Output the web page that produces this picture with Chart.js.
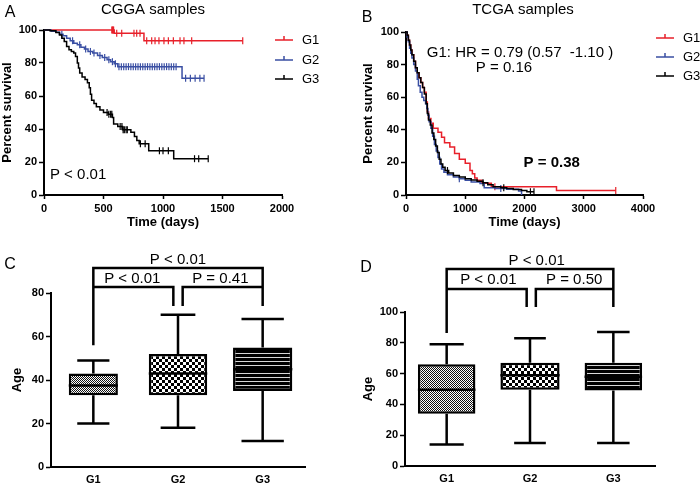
<!DOCTYPE html>
<html>
<head>
<meta charset="utf-8">
<script src="https://cdn.jsdelivr.net/npm/chart.js@4.4.0/dist/chart.umd.min.js"></script>
<style>
body { margin: 0; background: #fff; }
#wrap { position: relative; width: 700px; height: 485px; overflow: hidden; }
canvas { position: absolute; }
</style>
</head>
<body>
<div id="wrap">
  <canvas id="kmA" width="350" height="230" style="left:0;top:0"></canvas>
  <canvas id="kmB" width="350" height="230" style="left:350px;top:0"></canvas>
  <canvas id="boxC" width="350" height="255" style="left:0;top:230px"></canvas>
  <canvas id="boxD" width="350" height="255" style="left:350px;top:230px"></canvas>
</div>
<script>
// ---- data ----
const groupNames = ["G1", "G2", "G3"];

// CGGA survival, [days, percent]
const cggaG1Steps = [[0, 100], [590, 98], [840, 93.5], [1670, 93.5]];
const cggaG2Steps = [[0, 100], [60, 99.3], [100, 98.6], [130, 97.5], [160, 96.5], [190, 95], [220, 93.5], [250, 92],
    [280, 91], [310, 89.5], [340, 88.5], [370, 87], [410, 86], [450, 84.5], [490, 83.3], [530, 82], [560, 80.8],
    [590, 79.5], [620, 77.8], [1160, 70.7], [1345, 70.7]];
const cggaG3Steps = [[0, 100], [50, 99.5], [100, 98.5], [130, 97], [150, 95], [170, 93], [190, 90], [210, 88],
    [230, 87], [250, 86], [265, 84], [280, 80], [290, 77], [300, 74], [320, 71.5], [345, 70], [365, 68], [380, 65],
    [390, 61], [400, 57.5], [420, 55.5], [440, 53.5], [470, 51.5], [500, 50], [540, 49], [575, 47], [585, 43],
    [620, 41.5], [660, 39.5], [730, 38], [760, 35.5], [780, 33], [800, 31], [880, 26.8], [1090, 22], [1380, 22]];
const cggaG1Censor = [570, 575, 580, 585, 611, 653, 756, 779, 807, 863, 905, 933, 966, 1008, 1045, 1087, 1143, 1176, 1241, 1670];
const cggaG2Censor = [150, 240, 300, 350, 390, 420, 470, 510, 545, 575, 600, 630, 650, 670, 690, 710, 730, 750, 770,
    790, 810, 830, 850, 870, 890, 910, 930, 950, 970, 990, 1010, 1030, 1050, 1070, 1090, 1110, 1190, 1230, 1270, 1310, 1345];
const cggaG3Censor = [530, 545, 560, 570, 640, 655, 665, 675, 690, 700, 810, 850, 970, 1000, 1045, 1265, 1300, 1380];

// TCGA survival, [days, percent]
const tcgaG1Steps = [[0, 100], [20, 98], [40, 95], [60, 92], [80, 89], [100, 86], [130, 82], [160, 78], [190, 75],
    [220, 72], [250, 69], [280, 66], [310, 63], [340, 57], [360, 51], [380, 47], [420, 44], [460, 41], [540, 38.5],
    [600, 35.5], [650, 32], [740, 29.5], [820, 25.5], [900, 22], [1000, 19.5], [1080, 15], [1120, 13], [1160, 10.5],
    [1200, 9], [1280, 7.2], [1440, 5.1], [2540, 2.7], [3540, 2.7]];
const tcgaG2Steps = [[0, 100], [20, 97], [40, 94], [60, 90], [80, 87], [100, 84], [130, 80], [160, 76], [190, 71],
    [210, 67], [240, 63], [270, 60], [300, 58], [330, 56], [350, 53], [370, 49], [390, 45], [420, 41], [450, 36],
    [480, 31], [510, 27], [540, 23], [570, 19], [600, 16], [640, 14], [700, 12.5], [800, 11], [900, 10], [1000, 9],
    [1100, 8], [1250, 7], [1320, 4.5], [1500, 4], [1700, 3.5], [1900, 2.5], [1950, 0]];
const tcgaG3Steps = [[0, 100], [20, 98], [40, 95], [60, 92], [80, 89], [100, 86], [130, 82], [160, 78], [190, 75],
    [220, 72], [250, 69], [280, 66], [310, 62], [340, 56], [360, 50], [380, 46], [410, 43], [440, 38], [470, 34],
    [500, 30], [530, 26], [560, 22], [590, 19], [620, 17], [660, 15], [720, 13.5], [800, 12], [900, 11], [1000, 10],
    [1100, 9.2], [1200, 8.5], [1300, 7.5], [1380, 6.3], [1470, 5], [1600, 4.5], [1700, 4], [1810, 3.4], [1950, 2.7],
    [2040, 2], [2160, 2]];
const tcgaG1Censor = [1500, 3540];
const tcgaG2Censor = [900, 1600];
const tcgaG3Censor = [700, 1300, 1650, 2100, 2160];

// age box plots: min, q1, median, q3, max per group
const cggaAgeMin = [20, 18, 12];
const cggaAgeQ1 = [33, 33, 35];
const cggaAgeMedian = [37.5, 43, 45];
const cggaAgeQ3 = [43, 52, 55];
const cggaAgeMax = [49, 70, 68];

const tcgaAgeMin = [14, 15, 15];
const tcgaAgeQ1 = [34, 49.5, 49];
const tcgaAgeMedian = [49.5, 59, 58];
const tcgaAgeQ3 = [66, 67, 67];
const tcgaAgeMax = [79, 83, 87];

// ---- drawing ----
const FONT = "Arial, 'Liberation Sans', Helvetica, sans-serif";
Chart.defaults.font.family = FONT;
Chart.defaults.color = "#000";
const kmColors = ["#e8202a", "#3a4fa3", "#000000"];

function survivalAt(steps, t) {
    let s = steps[0][1];
    steps.forEach(p => { if (p[0] <= t) s = p[1]; });
    return s;
}

// free text (titles, letters, p-values); pos either pixel or data coords
function textPlugin(items) {
    return {
        id: "texts",
        afterDraw(chart) {
            const ctx = chart.ctx;
            ctx.save();
            ctx.fillStyle = "#000";
            ctx.textBaseline = "middle";
            items.forEach(it => {
                ctx.font = it.font;
                ctx.textAlign = it.align || "center";
                let x = it.x, y = it.y;
                if (it.at) {
                    x = chart.scales.x.getPixelForValue(it.at[0]);
                    y = chart.scales.y.getPixelForValue(it.at[1]);
                }
                ctx.fillText(it.text, x, y);
            });
            ctx.restore();
        }
    };
}

function kmLegend(x0, ys) {
    return {
        id: "kmLegend",
        afterDraw(chart) {
            const ctx = chart.ctx;
            ctx.save();
            ctx.textBaseline = "middle";
            ctx.textAlign = "left";
            ctx.font = "13px " + FONT;
            groupNames.forEach((name, i) => {
                const y = ys[i];
                ctx.strokeStyle = kmColors[i];
                ctx.lineWidth = 1.5;
                ctx.beginPath();
                ctx.moveTo(x0, y); ctx.lineTo(x0 + 18, y);
                ctx.moveTo(x0 + 9, y - 4); ctx.lineTo(x0 + 9, y);
                ctx.stroke();
                ctx.fillStyle = "#000";
                ctx.fillText(name, x0 + 27, y);
            });
            ctx.restore();
        }
    };
}

function axisFont(size) {
    return { family: FONT, size: size, weight: "bold" };
}

function plainNumber(v) {
    return String(v);
}

function kmChart(id, stepsList, censorList, o) {
    const datasets = [];
    stepsList.forEach((steps, i) => {
        datasets.push({
            label: groupNames[i],
            data: steps.map(p => ({ x: p[0], y: p[1] })),
            borderColor: kmColors[i],
            borderWidth: 1.5,
            stepped: true,
            pointRadius: 0,
            clip: 6,
            order: 3 - i
        });
        datasets.push({
            label: groupNames[i] + " censored",
            data: censorList[i].map(t => ({ x: t, y: survivalAt(steps, t) })),
            showLine: false,
            pointStyle: "line",
            rotation: 90,
            pointRadius: 3.5,
            pointBorderWidth: 1.2,
            borderColor: kmColors[i],
            clip: 6,
            order: 3 - i
        });
    });
    return new Chart(document.getElementById(id), {
        type: "line",
        data: { datasets },
        options: {
            responsive: false,
            animation: false,
            devicePixelRatio: 1,
            layout: { padding: o.padding },
            plugins: { legend: { display: false }, tooltip: { enabled: false } },
            scales: {
                x: {
                    type: "linear", min: 0, max: o.xMax,
                    ticks: { stepSize: o.xStep, font: axisFont(11), padding: 3, maxRotation: 0, callback: plainNumber },
                    grid: { drawOnChartArea: false, tickLength: 4, tickColor: "#000", tickWidth: 1.5 },
                    border: { color: "#000", width: 2 },
                    title: { display: true, text: "Time (days)", font: axisFont(13), padding: { top: 0, bottom: 0 } },
                    afterFit(s) { s.height = o.xHeight; }
                },
                y: {
                    min: 0, max: 100,
                    ticks: { stepSize: 20, font: axisFont(11), padding: 2, callback: plainNumber },
                    grid: { drawOnChartArea: false, tickLength: 5, tickColor: "#000", tickWidth: 1.5 },
                    border: { color: "#000", width: 2 },
                    title: { display: true, text: "Percent survival", font: axisFont(13), padding: { top: o.yTitlePad, bottom: 0 } },
                    afterFit(s) { s.width = o.yWidth; }
                }
            }
        },
        plugins: [textPlugin(o.texts), kmLegend(o.legendX, o.legendY)]
    });
}

function makePattern(kind) {
    const c = document.createElement("canvas");
    const g = c.getContext("2d");
    if (kind === "fine") {
        c.width = 2; c.height = 2;
        g.fillStyle = "#fff"; g.fillRect(0, 0, 2, 2);
        g.fillStyle = "#111"; g.fillRect(0, 0, 1, 1); g.fillRect(1, 1, 1, 1);
    } else if (kind === "check") {
        c.width = 6; c.height = 6;
        g.fillStyle = "#fff"; g.fillRect(0, 0, 6, 6);
        g.fillStyle = "#000"; g.fillRect(0, 0, 3, 3); g.fillRect(3, 3, 3, 3);
    } else {
        c.width = 4; c.height = 4;
        g.fillStyle = "#000"; g.fillRect(0, 0, 4, 4);
        g.fillStyle = "#d8d8d8"; g.fillRect(0, 3, 4, 1);
    }
    return g.createPattern(c, "repeat");
}

function boxPlugin(stats, capFrac) {
    return {
        id: "boxParts",
        afterDatasetsDraw(chart) {
            const { ctx, scales: { x, y } } = chart;
            const step = x.getPixelForValue(1) - x.getPixelForValue(0);
            ctx.save();
            ctx.strokeStyle = "#000";
            ctx.lineWidth = 2.5;
            stats.min.forEach((mn, i) => {
                const bar = chart.getDatasetMeta(i).data[i];
                const cx = bar.x;
                const half = capFrac[i] * step / 2;
                const bw = bar.width / 2;
                ctx.beginPath();
                // whiskers
                ctx.moveTo(cx, y.getPixelForValue(stats.q3[i])); ctx.lineTo(cx, y.getPixelForValue(stats.max[i]));
                ctx.moveTo(cx, y.getPixelForValue(stats.q1[i])); ctx.lineTo(cx, y.getPixelForValue(mn));
                // caps
                ctx.moveTo(cx - half, y.getPixelForValue(stats.max[i])); ctx.lineTo(cx + half, y.getPixelForValue(stats.max[i]));
                ctx.moveTo(cx - half, y.getPixelForValue(mn)); ctx.lineTo(cx + half, y.getPixelForValue(mn));
                // median
                ctx.moveTo(cx - bw, y.getPixelForValue(stats.median[i])); ctx.lineTo(cx + bw, y.getPixelForValue(stats.median[i]));
                ctx.stroke();
            });
            ctx.restore();
        }
    };
}

function bracketPlugin(paths) {
    return {
        id: "brackets",
        afterDraw(chart) {
            const { ctx, scales: { x, y } } = chart;
            ctx.save();
            ctx.strokeStyle = "#000";
            ctx.lineWidth = 2.5;
            ctx.lineJoin = "miter";
            paths.forEach(path => {
                ctx.beginPath();
                path.forEach((p, k) => {
                    const px = x.getPixelForValue(p[0]), py = y.getPixelForValue(p[1]);
                    if (k === 0) ctx.moveTo(px, py); else ctx.lineTo(px, py);
                });
                ctx.stroke();
            });
            ctx.restore();
        }
    };
}

function boxChart(id, stats, o) {
    const fills = [makePattern("fine"), makePattern("check"), makePattern("stripe")];
    const datasets = groupNames.map((g, i) => ({
        label: g,
        data: groupNames.map((_, j) => (j === i ? [stats.q1[i], stats.q3[i]] : null)),
        backgroundColor: fills[i],
        borderColor: "#000",
        borderWidth: 2.5,
        borderSkipped: false,
        grouped: false,
        categoryPercentage: 1,
        barPercentage: o.boxFrac[i]
    }));
    return new Chart(document.getElementById(id), {
        type: "bar",
        data: { labels: groupNames, datasets },
        options: {
            responsive: false,
            animation: false,
            devicePixelRatio: 1,
            layout: { padding: o.padding },
            plugins: { legend: { display: false }, tooltip: { enabled: false } },
            scales: {
                x: {
                    ticks: { font: axisFont(11), padding: 6 },
                    grid: { display: false, drawTicks: false },
                    border: { color: "#000", width: 2 },
                    afterFit(s) { s.height = o.xHeight; }
                },
                y: {
                    min: 0, max: o.yMax,
                    ticks: { stepSize: 20, font: axisFont(11), padding: 2, callback: plainNumber },
                    grid: { drawOnChartArea: false, tickLength: 5, tickColor: "#000", tickWidth: 1.5 },
                    border: { color: "#000", width: 2 },
                    title: { display: true, text: "Age", font: axisFont(13), padding: { top: o.yTitlePad, bottom: 0 } },
                    afterFit(s) { s.width = o.yWidth; }
                }
            }
        },
        plugins: [boxPlugin(stats, o.capFrac), bracketPlugin(o.brackets), textPlugin(o.texts)]
    });
}

kmChart("kmA", [cggaG1Steps, cggaG2Steps, cggaG3Steps], [cggaG1Censor, cggaG2Censor, cggaG3Censor], {
    padding: { left: 0, top: 30, right: 68, bottom: 0 },
    xMax: 2000, xStep: 500, xHeight: 35, yWidth: 44, yTitlePad: 0,
    legendX: 275, legendY: [40, 60, 79],
    texts: [
        { text: "A", x: 10, y: 13, font: "16px " + FONT },
        { text: "CGGA samples", x: 153, y: 10, font: "15px " + FONT },
        { text: "P < 0.01", at: [50, 12], align: "left", font: "15px " + FONT }
    ]
});

kmChart("kmB", [tcgaG1Steps, tcgaG2Steps, tcgaG3Steps], [tcgaG1Censor, tcgaG2Censor, tcgaG3Censor], {
    padding: { left: 0, top: 32, right: 57, bottom: 0 },
    xMax: 4000, xStep: 1000, xHeight: 35, yWidth: 56, yTitlePad: 11,
    legendX: 306, legendY: [38, 57, 76],
    texts: [
        { text: "B", x: 17, y: 18, font: "16px " + FONT },
        { text: "TCGA samples", x: 173, y: 10, font: "15px " + FONT },
        { text: "G1: HR = 0.79 (0.57  -1.10 )", at: [1924, 87], font: "15px " + FONT },
        { text: "P = 0.16", at: [1654, 78], font: "15px " + FONT },
        { text: "P = 0.38", at: [2460, 19.6], font: "bold 15px " + FONT }
    ]
});

boxChart("boxC", { min: cggaAgeMin, q1: cggaAgeQ1, median: cggaAgeMedian, q3: cggaAgeQ3, max: cggaAgeMax }, {
    padding: { left: 0, top: 63, right: 45, bottom: 0 },
    yMax: 80, xHeight: 18, yWidth: 51, yTitlePad: 10,
    boxFrac: [0.58, 0.69, 0.7], capFrac: [0.38, 0.41, 0.5],
    brackets: [
        [[0, 56], [0, 91.5], [2, 91.5], [2, 74]],
        [[0, 82.8], [0.945, 82.8], [0.945, 74]],
        [[1.055, 74], [1.055, 82.8], [2, 82.8]]
    ],
    texts: [
        { text: "C", x: 10, y: 35, font: "16px " + FONT },
        { text: "P < 0.01", at: [1, 95.2], font: "15px " + FONT },
        { text: "P < 0.01", at: [0.46, 86.6], font: "15px " + FONT },
        { text: "P = 0.41", at: [1.5, 86.6], font: "15px " + FONT }
    ]
});

boxChart("boxD", { min: tcgaAgeMin, q1: tcgaAgeQ1, median: tcgaAgeMedian, q3: tcgaAgeQ3, max: tcgaAgeMax }, {
    padding: { left: 0, top: 82, right: 45, bottom: 0 },
    yMax: 100, xHeight: 19, yWidth: 55, yTitlePad: 11,
    boxFrac: [0.69, 0.71, 0.69], capFrac: [0.41, 0.38, 0.39],
    brackets: [
        [[0, 86.4], [0, 127.9], [2, 127.9], [2, 103.2]],
        [[0, 114.9], [0.96, 114.9], [0.96, 103.2]],
        [[1.07, 103.2], [1.07, 114.9], [2, 114.9]]
    ],
    texts: [
        { text: "D", x: 16, y: 38, font: "16px " + FONT },
        { text: "P < 0.01", at: [1.08, 133.1], font: "15px " + FONT },
        { text: "P < 0.01", at: [0.5, 120.8], font: "15px " + FONT },
        { text: "P = 0.50", at: [1.53, 120.8], font: "15px " + FONT }
    ]
});
</script>
</body>
</html>
